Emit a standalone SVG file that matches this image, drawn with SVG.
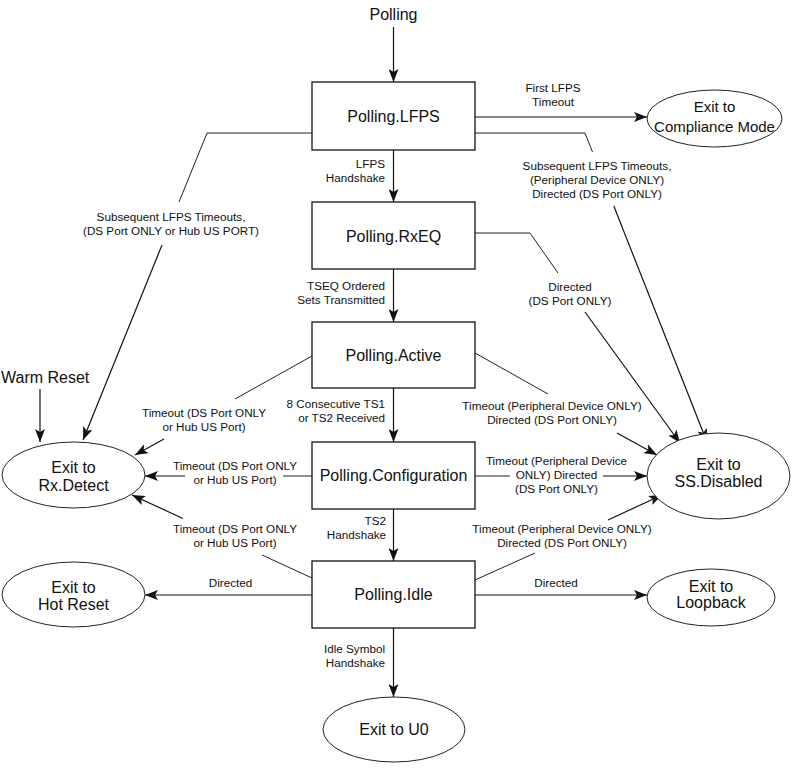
<svg xmlns="http://www.w3.org/2000/svg" width="800" height="771" viewBox="0 0 800 771">
<defs>
<marker id="ah" markerWidth="13" markerHeight="10" refX="13" refY="5" orient="auto" markerUnits="userSpaceOnUse">
<path d="M0,0 L13,5 L0,10 L3,5 Z" fill="#111"/>
</marker>
<style>
text{font-family:"Liberation Sans",Arial,sans-serif;fill:#111}
.box{fill:#fff;stroke:#111;stroke-width:1.3}
.ell{fill:#fff;stroke:#222;stroke-width:1}
.big{font-size:16px;text-anchor:middle}
.mid{font-size:15px;text-anchor:middle}
.sm{font-size:11.7px;text-anchor:middle}
.smr{font-size:11.7px;text-anchor:end}
.ln{fill:none;stroke:#222;stroke-width:1}
.arr{fill:none;stroke:#111;stroke-width:1.2;marker-end:url(#ah)}
</style>
</defs>
<rect width="800" height="771" fill="#fff"/>

<g id="connectors">
<path class="arr" d="M393.5,27 V82"/>
<path class="arr" d="M475,117 H647"/>
<path class="ln" d="M475,133 H585 L592.5,152"/>
<path class="arr" d="M613.8,206 L707,442"/>
<path class="ln" d="M312,133 H207 L179,202"/>
<path class="arr" d="M162,245 L83,440"/>
<path class="arr" d="M40,389 V442"/>
<path class="arr" d="M393.5,150 V202"/>
<path class="ln" d="M475,233 H530 L558,273"/>
<path class="arr" d="M585,312 L680,443"/>
<path class="arr" d="M393.5,269 V322"/>
<path class="ln" d="M312,356 L235,399"/>
<path class="arr" d="M164,439 L135,455"/>
<path class="ln" d="M475,353 L548,394"/>
<path class="arr" d="M617,433 L657,455"/>
<path class="arr" d="M393.5,388 V442"/>
<path class="ln" d="M312,476 H283"/>
<path class="arr" d="M185,476 H145"/>
<path class="ln" d="M475,476 H510"/>
<path class="arr" d="M603,476 H647"/>
<path class="arr" d="M393.5,509 V561"/>
<path class="ln" d="M312,578 L262,555"/>
<path class="arr" d="M183,518.5 L132,495"/>
<path class="ln" d="M475,580 L535,553"/>
<path class="arr" d="M608,520 L662,495"/>
<path class="arr" d="M312,595 H145"/>
<path class="arr" d="M475,595 H647"/>
<path class="arr" d="M393.5,628 V697"/>
</g>

<g id="labels">
<text class="big" x="393.5" y="20">Polling</text>
<text style="font-size:16px" x="1" y="383">Warm Reset</text>
<text class="sm" x="553" y="92">First LFPS</text>
<text class="sm" x="553" y="106">Timeout</text>
<text class="sm" x="597" y="170">Subsequent LFPS Timeouts,</text>
<text class="sm" x="597" y="184">(Peripheral Device ONLY)</text>
<text class="sm" x="597" y="198">Directed (DS Port ONLY)</text>
<text class="sm" x="171" y="221">Subsequent LFPS Timeouts,</text>
<text class="sm" x="171" y="235">(DS Port ONLY or Hub US PORT)</text>
<text class="smr" x="385" y="168">LFPS</text>
<text class="smr" x="385" y="182">Handshake</text>
<text class="smr" x="385" y="290">TSEQ Ordered</text>
<text class="smr" x="385" y="304">Sets Transmitted</text>
<text class="sm" x="570" y="291">Directed</text>
<text class="sm" x="570" y="305">(DS Port ONLY)</text>
<text class="smr" x="385" y="408">8 Consecutive TS1</text>
<text class="smr" x="385" y="422">or TS2 Received</text>
<text class="sm" x="204" y="417">Timeout (DS Port ONLY</text>
<text class="sm" x="204" y="431">or Hub US Port)</text>
<text class="sm" x="552" y="410">Timeout (Peripheral Device ONLY)</text>
<text class="sm" x="552" y="424">Directed (DS Port ONLY)</text>
<text class="sm" x="235" y="470">Timeout (DS Port ONLY</text>
<text class="sm" x="235" y="484">or Hub US Port)</text>
<text class="sm" x="556.5" y="465">Timeout (Peripheral Device</text>
<text class="sm" x="556.5" y="479">ONLY) Directed</text>
<text class="sm" x="556.5" y="493">(DS Port ONLY)</text>
<text class="smr" x="386" y="525">TS2</text>
<text class="smr" x="386" y="539">Handshake</text>
<text class="sm" x="235" y="533">Timeout (DS Port ONLY</text>
<text class="sm" x="235" y="547">or Hub US Port)</text>
<text class="sm" x="562" y="533">Timeout (Peripheral Device ONLY)</text>
<text class="sm" x="562" y="547">Directed (DS Port ONLY)</text>
<text class="sm" x="230.5" y="587">Directed</text>
<text class="sm" x="556" y="587">Directed</text>
<text class="smr" x="385" y="653">Idle Symbol</text>
<text class="smr" x="385" y="667">Handshake</text>
</g>

<g id="polling-lfps"><rect class="box" x="312" y="82" width="163" height="68"/><text class="big" x="393.5" y="121.5">Polling.LFPS</text></g>
<g id="polling-rxeq"><rect class="box" x="312" y="202" width="163" height="67"/><text class="big" x="393.5" y="241.5">Polling.RxEQ</text></g>
<g id="polling-active"><rect class="box" x="312" y="322" width="163" height="66"/><text class="big" x="393.5" y="361">Polling.Active</text></g>
<g id="polling-configuration"><rect class="box" x="312" y="442" width="163" height="67"/><text class="big" x="393.5" y="481">Polling.Configuration</text></g>
<g id="polling-idle"><rect class="box" x="312" y="561" width="163" height="67"/><text class="big" x="393.5" y="600">Polling.Idle</text></g>

<g id="exit-compliance"><ellipse class="ell" cx="714.5" cy="118.5" rx="67.5" ry="28.5"/><text class="mid" x="714.5" y="112">Exit to</text><text class="mid" x="714.5" y="132">Compliance Mode</text></g>
<g id="exit-ss-disabled"><ellipse class="ell" cx="718.5" cy="476" rx="71.5" ry="43"/><text class="big" x="718.5" y="470">Exit to</text><text class="big" x="718.5" y="487">SS.Disabled</text></g>
<g id="exit-rx-detect"><ellipse class="ell" cx="73.5" cy="475" rx="71.5" ry="33"/><text class="big" x="73.5" y="473">Exit to</text><text class="big" x="73.5" y="490.5">Rx.Detect</text></g>
<g id="exit-hot-reset"><ellipse class="ell" cx="73.5" cy="594.5" rx="71.5" ry="32.5"/><text class="big" x="73.5" y="592.5">Exit to</text><text class="big" x="73.5" y="609.5">Hot Reset</text></g>
<g id="exit-loopback"><ellipse class="ell" cx="711" cy="597.5" rx="64" ry="28.5"/><text class="big" x="711" y="591.5">Exit to</text><text class="big" x="711" y="608">Loopback</text></g>
<g id="exit-u0"><ellipse class="ell" cx="394" cy="729.5" rx="71" ry="32.5"/><text class="big" x="394" y="735">Exit to U0</text></g>
</svg>
